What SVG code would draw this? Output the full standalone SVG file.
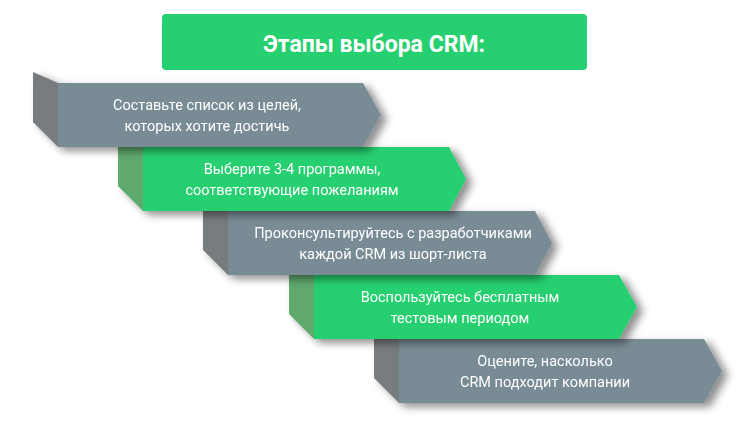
<svg xmlns="http://www.w3.org/2000/svg" width="750" height="425" viewBox="0 0 750 425">
<defs>
<filter id="sh" x="-10%" y="-20%" width="120%" height="160%"><feGaussianBlur in="SourceAlpha" stdDeviation="4"/><feOffset dx="6" dy="4"/><feComponentTransfer><feFuncA type="linear" slope="0.45"/></feComponentTransfer><feMerge><feMergeNode/><feMergeNode in="SourceGraphic"/></feMerge></filter>
<style>
.g{fill:#798b95}.gs{fill:#777b7e}.n{fill:#26cf6f}.ns{fill:#5ea96e}
text{font-family:Roboto,"Liberation Sans",sans-serif;fill:#fff;text-anchor:middle}
.t{font-size:14.5px}
</style>
</defs>
<rect width="750" height="425" fill="#fff"/>
<g id="title"><rect x="162" y="14" width="425" height="56" rx="4" class="n"/><text x="374" y="52" style="font-size:23px;font-weight:bold">Этапы выбора CRM:</text></g>
<g id="step5" filter="url(#sh)"><polygon class="gs" points="374,328 399,339 399,403 374,378"/><polygon class="g" points="399,339 704,339 722,371 704,403 399,403"/><text class="t" x="545" y="366">Оцените, насколько</text><text class="t" x="545" y="387">CRM подходит компании</text></g>
<g id="step4" filter="url(#sh)"><polygon class="ns" points="289,264 314,275 314,339 289,314"/><polygon class="n" points="314,275 619,275 637,307 619,339 314,339"/><text class="t" x="460" y="302">Воспользуйтесь бесплатным</text><text class="t" x="460" y="323">тестовым периодом</text></g>
<g id="step3" filter="url(#sh)"><polygon class="gs" points="203,200 228,211 228,275 203,250"/><polygon class="g" points="228,211 535,211 552,243 535,275 228,275"/><text class="t" x="393" y="238">Проконсультируйтесь с разработчиками</text><text class="t" x="393" y="259">каждой CRM из шорт-листа</text></g>
<g id="step2" filter="url(#sh)"><polygon class="ns" points="118,136 143,147 143,211 118,186"/><polygon class="n" points="143,147 449,147 466,179 449,211 143,211"/><text class="t" x="292" y="174">Выберите 3-4 программы,</text><text class="t" x="292" y="195">соответствующие пожеланиям</text></g>
<g id="step1" filter="url(#sh)"><polygon class="gs" points="33,72 58,83 58,147 33,122"/><polygon class="g" points="58,83 363,83 381,115 363,147 58,147"/><text class="t" x="207" y="110">Составьте список из целей,</text><text class="t" x="207" y="131">которых хотите достичь</text></g>
<g id="connectors"/>
</svg>
